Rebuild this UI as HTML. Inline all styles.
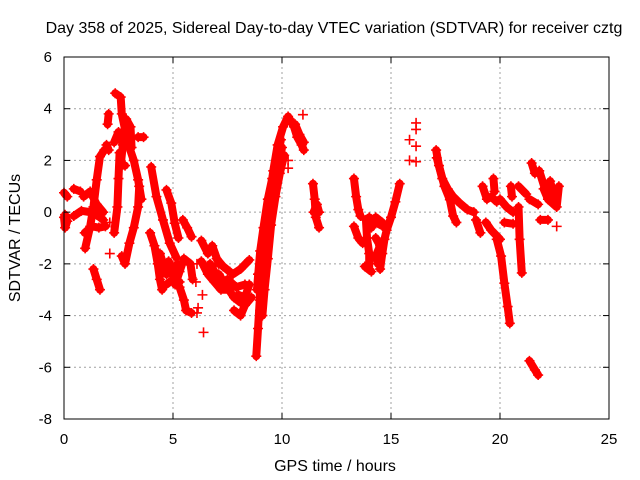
<!DOCTYPE html>
<html><head><meta charset="utf-8"><style>
body{margin:0;background:#fff;}
svg{display:block;font-family:"Liberation Sans",sans-serif;}
</style></head><body>
<svg id="chart" width="640" height="480">
<rect width="640" height="480" fill="#fff"/>
<text x="334" y="33" font-size="16" text-anchor="middle">Day 358 of 2025, Sidereal Day-to-day VTEC variation (SDTVAR) for receiver cztg</text>
<g id="grid"></g>
<g id="marks"></g>
<g id="axes"></g>
<text x="335" y="471" font-size="16" text-anchor="middle">GPS time / hours</text>
<text x="0" y="0" font-size="16" text-anchor="middle" transform="translate(20,238) rotate(-90)">SDTVAR / TECUs</text>
</svg>
<script>
const xTicks=[0,5,10,15,20,25];
const yTicks=[6,4,2,0,-2,-4,-6,-8];
const tracks=[
[[0,0.75],[0.15,0.6]],
[[0,-0.2],[0.05,-0.6],[0.15,-0.35],[0.05,-0.1]],
[[0.45,0.9],[0.75,0.8]],
[[0.45,-0.15],[0.8,0.05],[1.2,0.0],[1.5,-0.1],[1.8,-0.3]],
[[0.9,0.6],[1.2,0.8],[1.5,0.3],[1.8,0.0]],
[[0.97,-1.4],[1.2,-0.55],[1.35,0.2],[1.5,1.25],[1.65,2.15],[1.85,2.4]],
[[0.95,-0.8],[1.3,-0.55],[1.6,-0.6],[1.9,-0.55]],
[[1.35,-2.2],[1.5,-2.6],[1.65,-3.0]],
[[2.0,3.4],[2.05,3.8]],
[[1.95,2.6],[2.05,2.4]],
[[2.35,4.6],[2.6,4.45],[2.65,3.8],[2.8,3.2],[3.0,2.5],[3.2,2.0],[3.4,1.25],[3.55,0.5]],
[[2.3,2.7],[2.5,3.1],[2.7,2.6],[2.6,1.8],[2.8,1.8]],
[[2.3,-0.8],[2.45,0.2],[2.5,1.3],[2.55,2.3]],
[[2.65,-1.7],[2.8,-2.0],[3.0,-1.2],[3.2,-0.6],[3.4,0.2],[3.45,1.0]],
[[2.85,3.6],[3.05,3.3],[3.1,2.5]],
[[3.4,2.9],[3.65,2.9]],
[[4.0,1.75],[4.24,0.6],[4.54,-0.3],[4.85,-1.2],[5.15,-1.75]],
[[4.7,0.86],[4.92,0.35],[5.08,-0.43],[5.25,-1.0]],
[[3.95,-0.8],[4.15,-1.3],[4.3,-2.0],[4.4,-2.6],[4.5,-3.0]],
[[4.4,-1.6],[4.7,-2.4],[4.9,-2.1],[5.1,-2.8],[5.3,-2.3],[5.5,-1.8],[5.8,-2.0],[5.9,-2.6]],
[[4.5,-2.2],[4.8,-1.9],[5.0,-2.3],[5.2,-2.0]],
[[5.3,-2.9],[5.5,-3.4],[5.6,-3.8],[5.85,-3.9]],
[[4.7,-2.8],[5.0,-2.6],[5.3,-2.7]],
[[5.45,-0.3],[5.65,-0.6],[5.85,-0.95]],
[[6.3,-1.1],[6.6,-1.6],[6.8,-1.3],[7.1,-2.0]],
[[6.3,-1.9],[6.6,-2.4],[6.9,-2.7],[7.2,-3.0],[7.6,-3.0]],
[[6.7,-2.0],[6.9,-2.3],[7.1,-2.6]],
[[7.1,-2.4],[7.4,-2.8],[7.8,-3.3],[8.1,-3.5]],
[[7.0,-1.8],[7.3,-2.1],[7.6,-2.3]],
[[7.75,-2.4],[8.1,-2.2],[8.5,-1.85]],
[[7.8,-3.8],[8.1,-4.0],[8.3,-3.6],[8.6,-3.3]],
[[7.5,-2.6],[7.9,-2.9],[8.3,-2.8]],
[[8.0,-3.2],[8.3,-3.3],[8.5,-2.8]],
[[8.82,-5.57],[8.9,-4.5],[8.98,-3.4],[9.0,-2.0],[9.2,-1.0],[9.4,0.3],[9.6,1.6],[9.8,2.6],[10.05,3.3],[10.28,3.7]],
[[8.85,-3.0],[9.0,-1.5],[9.15,-0.6],[9.35,0.5],[9.55,1.3],[9.75,2.0],[9.95,2.8]],
[[8.9,-2.4],[9.1,-1.8],[9.3,-0.5],[9.5,0.6],[9.7,1.2],[9.9,2.0],[10.0,2.5]],
[[9.0,-3.8],[9.1,-2.6],[9.25,-1.5]],
[[9.1,-4.0],[9.2,-3.0],[9.35,-1.8],[9.5,-0.5],[9.7,0.6],[9.9,1.5],[10.1,2.2]],
[[10.35,3.6],[10.55,3.3],[10.7,2.9],[10.9,2.6],[11.0,2.4]],
[[10.6,3.4],[10.8,3.0],[11.0,2.7]],
[[11.42,1.1],[11.5,0.5],[11.55,-0.2],[11.7,-0.6]],
[[11.45,0.0],[11.6,0.3],[11.7,0.0]],
[[13.3,1.3],[13.4,0.6],[13.5,0.1],[13.6,-0.15]],
[[13.3,-0.55],[13.5,-1.0],[13.7,-1.2]],
[[13.85,-0.3],[13.9,-1.0],[14.0,-1.6],[14.0,-2.2]],
[[13.8,-2.1],[14.1,-2.3]],
[[14.0,-0.2],[14.3,-0.4],[14.75,-0.6]],
[[14.5,-2.2],[14.6,-1.6],[14.7,-1.05],[14.8,-0.7],[15.0,-0.2],[15.2,0.4],[15.4,1.1]],
[[14.3,-1.0],[14.5,-1.3],[14.3,-1.7],[14.4,-2.0]],
[[14.1,-0.6],[14.3,-0.2],[14.6,-0.4]],
[[17.07,2.4],[17.2,1.8],[17.45,1.0],[17.7,0.48],[17.85,-0.15],[18.0,-0.4]],
[[17.1,2.1],[17.35,1.3],[17.6,0.9],[17.85,0.6],[18.15,0.35],[18.5,0.1],[18.8,0.0]],
[[18.9,-0.3],[19.1,-0.8]],
[[19.2,1.0],[19.4,0.5],[19.6,0.6],[19.85,0.4]],
[[19.7,1.3],[19.75,0.8]],
[[19.35,-0.4],[19.6,-0.7],[20.0,-1.05]],
[[19.85,-1.05],[20.05,-1.7],[20.2,-2.75],[20.35,-3.65],[20.45,-4.3]],
[[20.0,0.5],[20.3,0.2],[20.6,0.0]],
[[20.5,1.0],[20.55,0.6]],
[[20.2,-0.4],[20.6,-0.45]],
[[20.85,1.0],[21.2,0.7]],
[[20.85,0.2],[20.9,-1.05],[21.0,-2.35]],
[[21.35,-5.75],[21.6,-6.1],[21.75,-6.3]],
[[21.45,1.9],[21.6,1.5]],
[[21.35,0.5],[21.75,0.3]],
[[21.8,1.6],[22.1,0.8],[22.3,1.2],[22.5,0.5],[22.7,1.0],[22.6,0.2],[22.2,0.5],[22.0,0.9]],
[[21.85,-0.3],[22.2,-0.3]]
];
const singlesT=[6.05,6.15,6.1,6.35,6.4,6.1,2.1,2.1,10.96,10.28,10.28,15.85,16.15,16.15,16.15,15.85,16.15,22.6];
const singlesV=[-2.7,-3.7,-3.9,-3.2,-4.65,-2.0,-0.4,-1.6,3.77,2.0,1.7,2.8,3.45,3.2,2.55,2.0,1.95,-0.55];

const L=64,R=609,T=57,B=419;
const xs=t=>L+(t-0)/25*(R-L);
const ys=v=>T+(6-v)/14*(B-T);
const NS="http://www.w3.org/2000/svg";
function mk(tag,attrs,parent){const e=document.createElementNS(NS,tag);for(const k in attrs)e.setAttribute(k,attrs[k]);parent.appendChild(e);return e;}
const grid=document.getElementById('grid'),marks=document.getElementById('marks'),axes=document.getElementById('axes');
xTicks.forEach(t=>{
  const x=xs(t);
  if(t>0&&t<25){const g=mk('line',{x1:x,y1:T,x2:x,y2:B,stroke:'#a0a0a0','stroke-dasharray':'2,3'},grid);
  
  }
  mk('line',{x1:x,y1:B,x2:x,y2:B-6,stroke:'#000'},axes);
  mk('line',{x1:x,y1:T,x2:x,y2:T+6,stroke:'#000'},axes);
  const lb=mk('text',{x:x,y:444,'font-size':15,'text-anchor':'middle'},axes);lb.textContent=t;
  
  
});
yTicks.forEach(v=>{
  const y=ys(v);
  if(v<6&&v>-8){const g=mk('line',{x1:L,y1:y,x2:R,y2:y,stroke:'#a0a0a0','stroke-dasharray':'2,3'},grid);
  
  }
  mk('line',{x1:L,y1:y,x2:L+6,y2:y,stroke:'#000'},axes);
  mk('line',{x1:R,y1:y,x2:R-6,y2:y,stroke:'#000'},axes);
  const lb=mk('text',{x:52,y:y+5,'font-size':15,'text-anchor':'end'},axes);lb.textContent=v;
  
  
});
const fr=mk('rect',{x:L,y:T,width:R-L,height:B-T,fill:'none',stroke:'#000','stroke-width':1},axes);


function plus(t,v){
  const x=xs(t),y=ys(v);
  const p=mk('path',{d:`M${x-5},${y}H${x+5}M${x},${y-5}V${y+5}`,stroke:'#f00','stroke-width':1.6,fill:'none'},marks);
  
  
}
tracks.forEach(tr=>{
  const pl=mk('polyline',{points:tr.map(p=>xs(p[0])+','+ys(p[1])).join(' '),fill:'none',stroke:'#f00','stroke-width':8,'stroke-linejoin':'round','stroke-linecap':'round'},marks);
  
  
  tr.forEach(p=>plus(p[0],p[1]));
});
singlesT.forEach((t,i)=>plus(t,singlesV[i]));
</script>
</body></html>
